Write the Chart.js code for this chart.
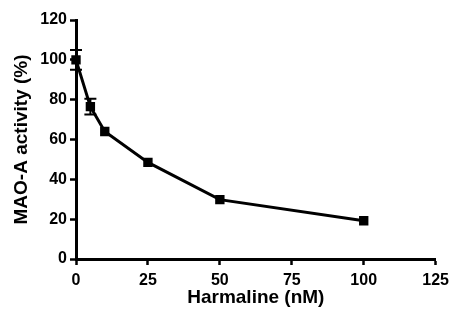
<!DOCTYPE html>
<html lang="en">
<head>
<meta charset="UTF-8" />
<title>MAO-A activity</title>
<script src="https://cdn.jsdelivr.net/npm/chart.js"></script>
<style>
  html, body { margin: 0; padding: 0; background: #fff; }
  #wrap { width: 455px; height: 314px; }
</style>
</head>
<body>
<div id="wrap"><canvas id="chart" width="455" height="314"></canvas></div>
<script>
const doses = [0, 5, 10, 25, 50, 100];
const activity = [100, 76.5, 64, 48.5, 29.8, 19.2];
const errors = [5, 4, 0, 0, 0, 0];
const xTicks = [0, 25, 50, 75, 100, 125];
const yTicks = [0, 20, 40, 60, 80, 100, 120];

const errorBars = {
    id: "errorBars",
    afterDatasetsDraw(chart) {
        const ctx = chart.ctx;
        const xs = chart.scales.x;
        const ys = chart.scales.y;
        ctx.save();
        ctx.strokeStyle = "#000";
        ctx.lineWidth = 2;
        doses.forEach((d, i) => {
            if (!errors[i]) return;
            const px = xs.getPixelForValue(d);
            const top = ys.getPixelForValue(activity[i] + errors[i]);
            const bot = ys.getPixelForValue(activity[i] - errors[i]);
            ctx.beginPath();
            ctx.moveTo(px, top);
            ctx.lineTo(px, bot);
            ctx.moveTo(px - 6, top);
            ctx.lineTo(px + 6, top);
            ctx.moveTo(px - 6, bot);
            ctx.lineTo(px + 6, bot);
            ctx.stroke();
        });
        ctx.restore();
    },
};

const tickFont = { family: "Liberation Sans, Arial, sans-serif", weight: "bold", size: 16 };
const titleFont = { family: "Liberation Sans, Arial, sans-serif", weight: "bold", size: 19 };

new Chart(document.getElementById("chart"), {
    type: "scatter",
    data: {
        datasets: [
            {
                data: doses.map((d, i) => ({ x: d, y: activity[i] })),
                showLine: true,
                borderColor: "#000",
                borderWidth: 3,
                backgroundColor: "#000",
                pointStyle: "rect",
                pointRadius: 4.5,
                pointHoverRadius: 4.5,
                clip: false,
            },
        ],
    },
    options: {
        responsive: false,
        animation: false,
        layout: { padding: { top: 20, right: 17, left: 0, bottom: 0 } },
        plugins: { legend: { display: false }, tooltip: { enabled: false } },
        scales: {
            x: {
                type: "linear",
                min: 0,
                max: 125,
                afterBuildTicks: (s) => { s.ticks = xTicks.map((v) => ({ value: v })); },
                afterFit: (s) => { s.height = 55; },
                grid: { drawOnChartArea: false, drawTicks: true, tickLength: 6, tickWidth: 2.5, color: "#000" },
                border: { display: true, width: 3, color: "#000" },
                ticks: { color: "#000", font: tickFont, padding: 6 },
                title: { display: true, text: "Harmaline (nM)", color: "#000", font: titleFont, padding: { top: 0, bottom: 5 } },
            },
            y: {
                type: "linear",
                min: 0,
                max: 120,
                afterBuildTicks: (s) => { s.ticks = yTicks.map((v) => ({ value: v })); },
                afterFit: (s) => { s.width = 76; },
                grid: { drawOnChartArea: false, drawTicks: true, tickLength: 6, tickWidth: 2.5, color: "#000" },
                border: { display: true, width: 3, color: "#000" },
                ticks: { color: "#000", font: tickFont, padding: 3 },
                title: { display: true, text: "MAO-A activity (%)", color: "#000", font: titleFont, padding: { top: 10, bottom: 0 } },
            },
        },
    },
    plugins: [errorBars],
});
</script>
</body>
</html>
